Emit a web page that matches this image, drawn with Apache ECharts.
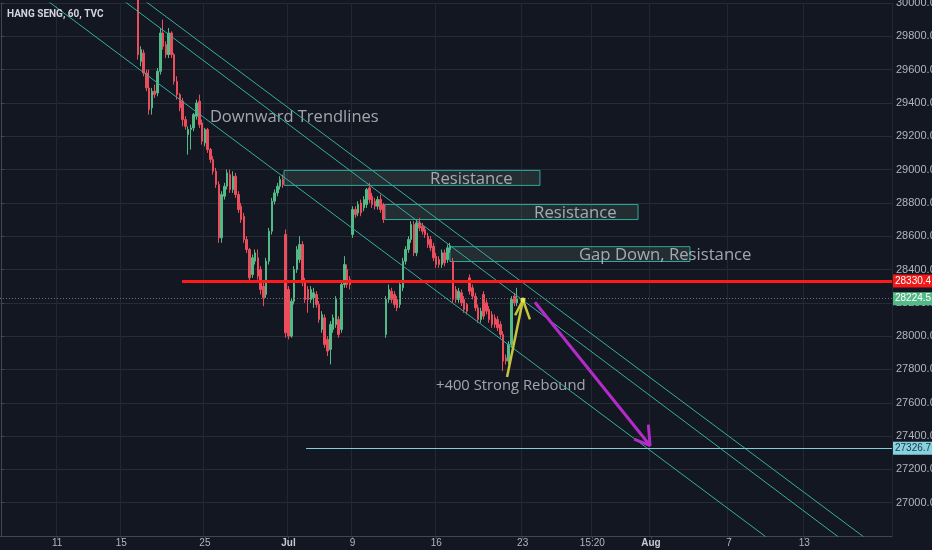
<!DOCTYPE html>
<html>
<head>
<meta charset="utf-8">
<script src="https://cdn.jsdelivr.net/npm/echarts@6/dist/echarts.min.js"></script>
<style>
  html, body { margin: 0; padding: 0; background: #131722; }
  #main { width: 932px; height: 550px; }
</style>
</head>
<body>
<div id="main"></div>
<script>
// hourly slots on the x axis (about 6 per trading day)
const slotCount = 320;
const tickIdx = [20, 43, 73, 103, 126, 156, 187, 212, 233, 261, 288];
const tickText = ['11', '15', '25', 'Jul', '9', '16', '23', '15:20', 'Aug', '7', '13'];

// HSI 60 min candles [open, close, low, high], first one sits on slot 49
const firstBar = 49;
const candles = [
  [30080,29690,29660,30120],[29650,29720,29620,29740],[29700,29580,29560,29720],[29580,29490,29470,29600],
  [29490,29360,29330,29600],[29370,29470,29330,29490],[29470,29450,29430,29510],[29460,29590,29440,29610],
  [29590,29820,29570,29850],[29820,29740,29720,29900],[29750,29690,29670,29770],[29690,29820,29670,29850],
  [29820,29690,29670,29830],[29690,29530,29510,29700],[29530,29450,29420,29560],[29450,29370,29350,29460],
  [29410,29300,29260,29430],[29300,29260,29240,29320],[29210,29240,29090,29260],[29240,29250,29120,29270],
  [29250,29330,29230,29340],[29320,29400,29300,29420],[29410,29270,29250,29450],[29280,29170,29150,29300],
  [29160,29240,29140,29250],[29240,29120,29100,29250],[29120,29060,29040,29130],[29060,28990,28970,29080],
  [28990,28910,28890,29010],[28910,28590,28560,28930],[28590,28850,28560,28870],[28840,28900,28820,28920],
  [28900,28980,28880,29000],[28970,28880,28860,29000],[28880,28960,28860,28990],[28960,28850,28830,28980],
  [28850,28760,28740,28870],[28780,28700,28680,28800],[28720,28580,28560,28740],[28580,28520,28500,28600],
  [28520,28350,28330,28530],[28370,28470,28350,28490],[28450,28500,28430,28520],[28470,28360,28340,28520],
  [28400,28280,28250,28420],[28300,28230,28180,28320],[28250,28450,28230,28470],[28450,28630,28430,28650],
  [28630,28810,28610,28830],[28810,28860,28790,28880],[28860,28900,28840,28920],[28900,28940,28880,28960],
  [28940,28910,28890,28970],[28610,28020,27990,28640],[28280,28000,27980,28300],[28000,28210,27990,28230],
  [28210,28400,28190,28420],[28400,28520,28380,28540],[28460,28550,28440,28600],[28550,28320,28300,28570],
  [28330,28220,28200,28350],[28280,28220,28140,28300],[28220,28280,28200,28300],[28230,28260,28170,28290],
  [28250,28190,28170,28270],[28190,28100,28080,28210],[28040,28130,28020,28150],[28110,27950,27930,28130],
  [27980,27910,27880,28000],[27920,28070,27830,28090],[28040,28110,28020,28130],[28070,28220,28050,28240],
  [28100,28010,27990,28120],[28040,28310,28020,28330],[28310,28430,28290,28480],[28400,28310,28290,28430],
  [28340,28310,28280,28360],[28610,28760,28590,28780],[28760,28730,28710,28780],[28740,28790,28720,28810],
  [28800,28740,28720,28820],[28770,28820,28750,28840],[28790,28880,28770,28890],[28890,28820,28800,28920],
  [28840,28790,28770,28860],[28810,28780,28760,28830],[28780,28820,28760,28840],[28820,28760,28740,28850],
  [28790,28700,28680,28800],[28010,28220,27990,28240],[28220,28280,28200,28310],[28270,28220,28200,28290],
  [28250,28190,28170,28270],[28220,28170,28150,28240],[28190,28310,28170,28330],[28290,28450,28270,28470],
  [28450,28520,28430,28540],[28520,28580,28500,28600],[28580,28670,28560,28690],[28670,28500,28480,28690],
  [28500,28680,28480,28700],[28680,28650,28630,28710],[28660,28630,28610,28680],[28640,28610,28590,28660],
  [28600,28550,28530,28620],[28580,28530,28510,28600],[28540,28470,28450,28560],[28480,28430,28410,28500],
  [28460,28430,28410,28480],[28430,28500,28410,28520],[28500,28440,28420,28520],[28460,28530,28440,28550],
  [28520,28540,28500,28560],[28450,28220,28200,28470],[28280,28220,28200,28300],[28220,28270,28200,28290],
  [28260,28200,28180,28280],[28220,28160,28140,28240],[28190,28150,28130,28200],[28350,28270,28250,28370],
  [28290,28240,28220,28310],[28240,28170,28150,28260],[28170,28100,28080,28190],[28100,28150,28080,28170],
  [28250,28120,28100,28270],[28200,28150,28130,28220],[28160,28100,28080,28180],[28130,28070,28050,28150],
  [28110,28070,28050,28130],[28100,28050,28030,28120],[28070,28010,27990,28090],[28010,27850,27790,28030],
  [27870,27850,27830,27890],[27850,27950,27830,27970],[27950,28220,27930,28240],[28240,28200,28180,28260],
  [28200,28224.5,28180,28290]
];

// drawings, as [slot, price]
const trendLower = [[9.6, 30100], [279, 26736]];
const trendMid = [[37, 30100], [305, 26735]];
const trendUpper = [[44.5, 30100], [314, 26737]];
const reboundShaft = [[181.4, 27755], [187.1, 28217]];
const reboundHead = [[184.3, 28125], [187.1, 28217], [189.6, 28101]];
const dropShaft = [[191.4, 28203], [232.7, 27343]];
const dropHead = [[227, 27381], [232.7, 27343], [232.1, 27469]];

// resistance boxes [fromSlot, toSlot, top, bottom]
const boxes = [
  [101.4, 193.2, 28995, 28905],
  [137.6, 228.4, 28790, 28700],
  [160.9, 247.0, 28537, 28448]
];

// levels
const redLevel = 28330.4, redFrom = 64.8;
const lastPrice = 28224.5;
const targetLevel = 27326.7, targetFrom = 109.3;

// notes [slot, price, text]
const notes = [
  [74.8, 29313, 'Downward Trendlines'],
  [153.8, 28943, 'Resistance'],
  [191.1, 28740, 'Resistance'],
  [207.2, 28484, 'Gap Down, Resistance'],
  [155.9, 27701, '+400 Strong Rebound']
];

const slots = Array.from({ length: slotCount }, (_, i) => {
  const k = tickIdx.indexOf(i);
  return k >= 0 ? tickText[k] : '';
});
const onTick = (i) => tickIdx.includes(i);

const myChart = echarts.init(document.getElementById('main'));

const teal = '#36ad9f';
function drawLine(data, color, width) {
  return {
    type: 'line', xAxisIndex: 1, yAxisIndex: 0, data: data,
    symbol: 'none', silent: true, clip: true,
    lineStyle: { color: color, width: width }
  };
}
function priceTag(value, bg, fg) {
  return {
    show: true, position: 'end', distance: 1,
    backgroundColor: bg, color: fg, padding: [2, 2, 1, 2],
    fontSize: 10, fontFamily: 'Liberation Sans',
    formatter: value.toFixed(1)
  };
}

var option = {
  backgroundColor: '#131722',
  animation: false,
  title: {
    text: 'HANG SENG, 60, TVC', left: 7, top: 9, padding: 0,
    textStyle: { color: '#d1d4dc', fontSize: 10, fontWeight: 'bold', fontFamily: 'Roboto' }
  },
  grid: { left: 0, right: 40, top: 3, bottom: 14, outerBoundsMode: 'none', containLabel: false },
  xAxis: [
    {
      type: 'category', data: slots, boundaryGap: true,
      axisLine: { lineStyle: { color: '#434651' } },
      axisTick: { show: true, interval: onTick, length: 3, alignWithLabel: true, lineStyle: { color: '#434651' } },
      axisLabel: {
        interval: onTick, margin: 2, color: '#b2b5be', fontSize: 10, fontFamily: 'Liberation Sans',
        formatter: (v) => (v === 'Jul' || v === 'Aug') ? '{b|' + v + '}' : v,
        rich: { b: { fontWeight: 'bold', color: '#c8cad0', fontSize: 10, fontFamily: 'Liberation Sans' } }
      },
      splitLine: { show: true, interval: onTick, lineStyle: { color: '#232733' } }
    },
    { type: 'value', min: -0.5, max: slotCount - 0.5, show: false }
  ],
  yAxis: {
    type: 'value', position: 'right', min: 26800, max: 30000, interval: 200,
    axisLine: { show: true, lineStyle: { color: '#434651' } },
    axisTick: { show: true, length: 3, lineStyle: { color: '#434651' } },
    axisLabel: {
      showMinLabel: false, margin: 4, color: '#b2b5be', fontSize: 11, fontFamily: 'Liberation Sans',
      formatter: (v) => v.toFixed(1)
    },
    splitLine: { lineStyle: { color: '#262b36' } }
  },
  series: [
    {
      type: 'candlestick', xAxisIndex: 0, yAxisIndex: 0,
      dimensions: ['slot', 'open', 'close', 'lowest', 'highest'],
      encode: { x: 'slot', y: ['open', 'close', 'lowest', 'highest'] },
      data: candles.map((c, k) => [firstBar + k].concat(c)),
      barWidth: 2,
      itemStyle: { color: '#53b987', color0: '#eb4d5c', borderColor: '#53b987', borderColor0: '#eb4d5c', borderWidth: 1 }
    },
    Object.assign(drawLine([], teal, 1), {
      markArea: {
        silent: true,
        itemStyle: { color: 'rgba(96,128,108,0.22)', borderColor: '#2fa89b', borderWidth: 1 },
        data: boxes.map((b) => [{ coord: [b[0], b[2]] }, { coord: [b[1], b[3]] }])
      },
      markLine: {
        silent: true, symbol: 'none',
        data: [
          [{ coord: [-0.5, lastPrice], lineStyle: { color: '#6b7080', width: 1, type: [1, 2] }, label: priceTag(lastPrice, '#53b987', '#ffffff') },
           { coord: [slotCount - 0.5, lastPrice] }],
          [{ coord: [targetFrom, targetLevel], lineStyle: { color: '#7fcfd8', width: 1, type: 'solid' }, label: priceTag(targetLevel, '#86d3df', '#1c3442') },
           { coord: [slotCount - 0.5, targetLevel] }],
          [{ coord: [redFrom, redLevel], lineStyle: { color: '#ff1a1a', width: 3, type: 'solid' }, label: priceTag(redLevel, '#f21818', '#ffffff') },
           { coord: [slotCount - 0.5, redLevel] }]
        ]
      }
    }),
    drawLine(trendLower, teal, 1),
    drawLine(trendMid, teal, 1),
    drawLine(trendUpper, teal, 1),
    drawLine(reboundShaft, '#c6c43a', 2.5),
    Object.assign(drawLine(reboundHead, '#c6c43a', 2.5), {
      markPoint: {
        silent: true, symbol: 'circle', symbolSize: 5,
        itemStyle: { color: '#e6e84a' }, label: { show: false },
        data: [{ coord: reboundHead[1] }]
      }
    }),
    drawLine(dropShaft, '#b32cc8', 3),
    drawLine(dropHead, '#b32cc8', 3),
    {
      type: 'scatter', xAxisIndex: 1, yAxisIndex: 0, symbolSize: 0, silent: true,
      data: notes.map((n, k) => ({
        value: n,
        label: { fontSize: k === 0 ? 16.5 : (k === 4 ? 14.8 : 16.7) }
      })),
      label: {
        show: true, position: 'right', distance: 0,
        color: '#c6c9ce', fontFamily: 'Open Sans',
        formatter: (p) => p.value[2]
      }
    }
  ]
};

option && myChart.setOption(option);
</script>
</body>
</html>
